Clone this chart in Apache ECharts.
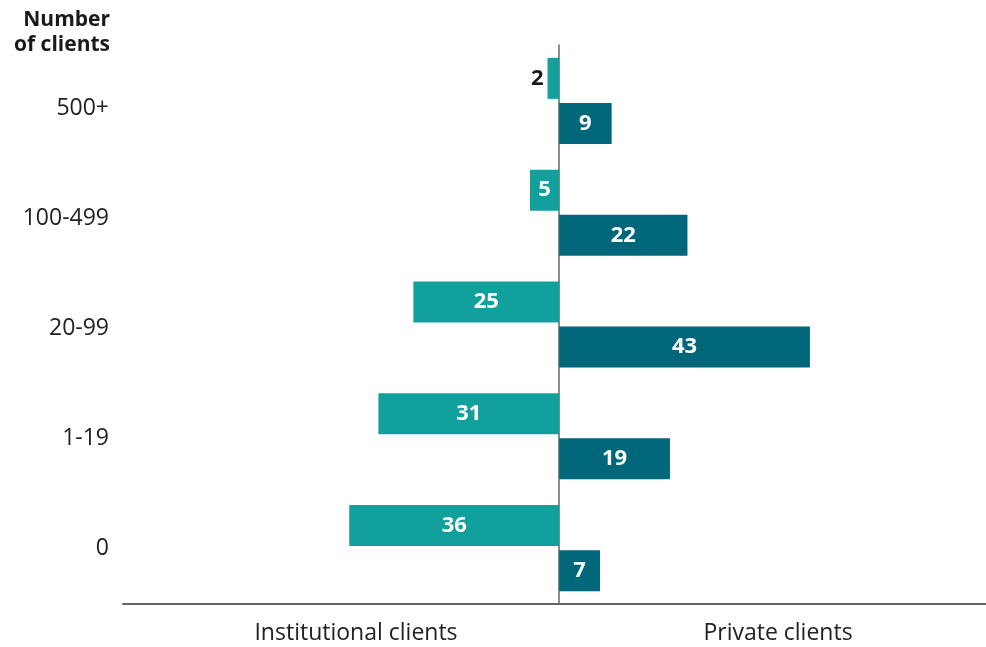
<!DOCTYPE html>
<html>
<head>
<meta charset="utf-8">
<script src="https://cdn.jsdelivr.net/npm/echarts@6/dist/echarts.min.js"></script>
<style>
  html, body { margin: 0; padding: 0; background: #ffffff; }
  #chart { width: 986px; height: 647px; }
</style>
</head>
<body>
<div id="chart"></div>
<script>
// Client-count bands, top to bottom
const categories = ['500+', '100-499', '20-99', '1-19', '0'];
// Share of managers in each band
const institutional = [2, 5, 25, 31, 36];
const privateClients = [9, 22, 43, 19, 7];
const sideLabels = ['Institutional clients', 'Private clients'];
const yTitle = ['Number', 'of clients'];

const FONT = '"Open Sans", sans-serif';
const TEAL = '#12a09d';
const DARK_TEAL = '#00667a';
const X_MIN = -74.8;
const X_MAX = 73.2;

const chart = echarts.init(document.getElementById('chart'), null, { renderer: 'canvas' });

// Bars narrower than this keep their label outside
const insideMin = 4;

const instData = institutional.map(v => {
  const item = { value: -v };
  if (v < insideMin) {
    item.label = { position: 'left', color: '#1a1a1a', distance: 4 };
  }
  return item;
});

chart.setOption({
  animation: false,
  grid: [
    { left: 123, right: 0, top: 45, height: 559 },
    { left: 123, right: 0, top: 53, height: 550 }
  ],
  xAxis: [
    {
      type: 'value', gridIndex: 0, min: X_MIN, max: X_MAX,
      axisLine: { show: true, onZero: false, lineStyle: { color: '#666666', width: 2 } },
      axisTick: { show: false }, axisLabel: { show: false }, splitLine: { show: false }
    },
    { type: 'value', gridIndex: 1, show: false, min: X_MIN, max: X_MAX }
  ],
  yAxis: [
    {
      type: 'category', gridIndex: 0, data: categories, inverse: true,
      axisLine: { show: true, onZero: true, lineStyle: { color: '#666666', width: 1.5 } },
      axisTick: { show: false }, axisLabel: { show: false }
    },
    {
      type: 'category', gridIndex: 1, data: categories, inverse: true,
      axisLine: { show: false }, axisTick: { show: false },
      axisLabel: { show: true, margin: 14, fontFamily: FONT, fontSize: 23, color: '#222222' }
    }
  ],
  series: [
    {
      name: sideLabels[0], type: 'bar', xAxisIndex: 0, yAxisIndex: 0,
      data: instData, barWidth: 41, barGap: '10%',
      itemStyle: { color: TEAL },
      label: {
        show: true, position: 'inside', color: '#ffffff', fontFamily: FONT,
        fontWeight: 'bold', fontSize: 22, formatter: p => Math.abs(p.value)
      }
    },
    {
      name: sideLabels[1], type: 'bar', xAxisIndex: 0, yAxisIndex: 0,
      data: privateClients, barWidth: 41, barGap: '10%',
      itemStyle: { color: DARK_TEAL },
      label: {
        show: true, position: 'inside', color: '#ffffff', fontFamily: FONT,
        fontWeight: 'bold', fontSize: 22
      }
    }
  ],
  graphic: [
    {
      type: 'text', right: 986 - 110, top: 8,
      style: {
        text: yTitle.join('\n'), fontFamily: FONT, fontWeight: 'bold', fontSize: 21,
        lineHeight: 25, fill: '#1a1a1a', textAlign: 'right'
      }
    },
    {
      type: 'text', x: 356, y: 633,
      style: { text: sideLabels[0], fontFamily: FONT, fontSize: 23, fill: '#222222',
        textAlign: 'center', textVerticalAlign: 'middle' }
    },
    {
      type: 'text', x: 778, y: 633,
      style: { text: sideLabels[1], fontFamily: FONT, fontSize: 23, fill: '#222222',
        textAlign: 'center', textVerticalAlign: 'middle' }
    }
  ]
});
</script>
</body>
</html>
